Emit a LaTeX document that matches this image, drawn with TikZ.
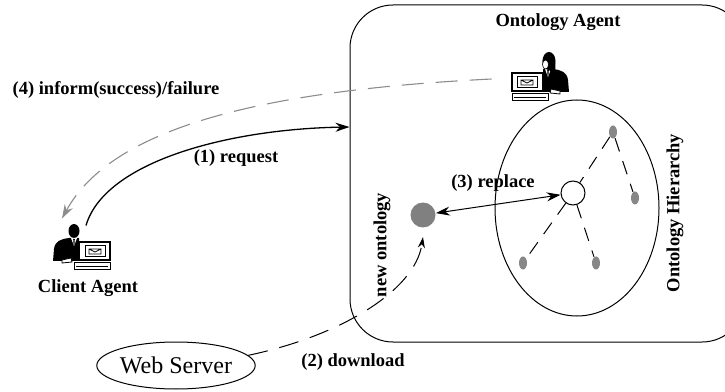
\documentclass[tikz,border=0pt]{standalone}
\usepackage{fontspec}
\setmainfont{Liberation Serif}
\usetikzlibrary{shapes.geometric, arrows.meta}
\tikzset{
    lbl/.style={font=\fontsize{18.5}{20}\selectfont\bfseries, inner sep=1pt},
    leaf/.style={ellipse, fill=black!47, minimum width=8pt, minimum height=13pt, inner sep=0pt},
    reqline/.style={line width=1.3pt, -{Stealth[length=14pt, width=9pt]}},
    informline/.style={black!45, line width=1.1pt, dash pattern=on 22pt off 12pt, -{Stealth[length=14pt, width=9pt]}},
    downline/.style={line width=1pt, dash pattern=on 20pt off 12pt, -{Stealth[length=11pt, width=7pt]}},
    treeline/.style={line width=1pt, dash pattern=on 14pt off 10pt},
    % person at a desk computer
    clientpc/.pic={
        \fill (-8,17) ellipse [x radius=5.5, y radius=7];
        \fill (-29,-13) -- (-28,-1) .. controls (-27,7) and (-21,9) .. (-13,10) -- (-3,10) -- (-3,-13) -- cycle;
        \fill[white] (-11,10) -- (-8,2) -- (-5,10) -- cycle;
        \fill (-8.8,9) -- (-7.2,9) -- (-7.6,3) -- (-8.4,3) -- cycle;
        \filldraw[fill=white, line width=1.4pt] (-3,-12) rectangle (28,6);
        \draw[line width=1pt] (3,-9) rectangle (23,2);
        \draw[line width=0.8pt] (7,-6) rectangle (19,-1) (7,-1) -- (13,-4) -- (19,-1);
        \filldraw[fill=white, line width=1pt] (-8,-22) rectangle (28,-15);
        \draw[line width=0.6pt] (-6,-18.5) -- (26,-18.5);
        \filldraw[fill=white, line width=0.8pt] (-20,-12) -- (-11,-10) -- (-10,-14) -- (-20,-15) -- cycle;
    },
    womanpc/.pic={
        \pic[xscale=-1] {clientpc};
        \fill (9,18) ellipse [x radius=6.5, y radius=9];
        \fill (8,12) .. controls (9,7) and (12,6) .. (15,8) .. controls (16,12) and (15.5,18) .. (14,20) -- cycle;
        \filldraw[fill=white, line width=0.6pt] (5.5,14.5) ellipse [x radius=3, y radius=4.5];
    }
}

\begin{document}
\begin{tikzpicture}[x=1pt, y=1pt, line width=1pt]
    \useasboundingbox (0,0) rectangle (725,391);
    \clip (0,0) rectangle (725,391);

    % ontology agent and its hierarchy
    \node[draw, rounded corners=43pt, minimum width=395pt, minimum height=337pt] (oabox) at (547.5,217.5) {};
    \node[lbl] (oatitle) at (558,369) {Ontology Agent};
    \pic at (540,312) {womanpc};
    \node[minimum width=52pt, minimum height=46pt, inner sep=0pt] (oagent) at (540,312) {};

    \node[draw, ellipse, minimum width=164pt, minimum height=216pt] (hier) at (577,183) {};
    \node[lbl, rotate=90] (hiertitle) at (675,178) {Ontology Hierarchy};
    \node[leaf] (top) at (613,259) {};
    \node[leaf] (right) at (635,193) {};
    \node[leaf] (bl) at (523,128) {};
    \node[leaf] (br) at (596,128) {};
    \node[draw, circle, fill=white, minimum size=24pt, inner sep=0pt] (root) at (573,198) {};
    \draw[treeline] (top) -- (root);
    \draw[treeline] (top) -- (right);
    \draw[treeline] (root) -- (bl);
    \draw[treeline] (root) -- (br);

    % downloaded ontology
    \node[circle, fill=black!50, minimum size=25pt, inner sep=0pt] (new) at (423,176) {};
    \node[lbl, rotate=90] (newtitle) at (382,146) {new ontology};

    % client and web server
    \pic at (82,143) {clientpc};
    \node[minimum width=58pt, minimum height=44pt, inner sep=0pt] (client) at (82,143) {};
    \node[lbl] (clienttitle) at (88,103) {Client Agent};
    \node[draw, ellipse, minimum width=155pt, minimum height=47pt, inner sep=0pt,
          font=\fontsize{24}{26}\selectfont] (web) at (176,25.5) {Web Server};

    % messages
    \draw[reqline] ([xshift=4]client.north) .. controls (105,230) and (230,262) .. ([yshift=46.5]oabox.west);
    \node[lbl] at (236,233) {(1) request};
    \draw[downline] (web.8) .. controls (340,55) and (415,100) .. ([yshift=-9]new.south);
    \node[lbl] at (353,29) {(2) download};
    \draw[{Stealth[length=14pt, width=9pt]}-{Stealth[length=14pt, width=9pt]}] (new) -- (root);
    \node[lbl] at (493,208) {(3) replace};
    \draw[informline] ([xshift=-22]oagent.west) .. controls (250,300) and (110,260) .. ([shift={(-20,7)}]client.north);
    \node[lbl] at (116,301) {(4) inform(success)/failure};
\end{tikzpicture}
\end{document}
